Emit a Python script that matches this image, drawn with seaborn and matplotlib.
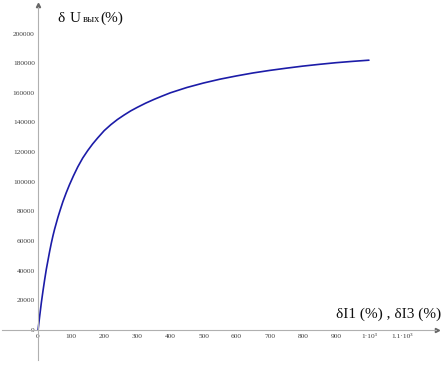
import matplotlib
matplotlib.use("Agg")
import matplotlib.pyplot as plt
import seaborn as sns
import pandas as pd

# Values
x_vals = [0, 5, 10, 15, 20, 25, 30, 35, 40, 45, 50, 55, 60, 67, 75, 85, 95, 107,
          120, 135, 150, 165, 180, 200, 220, 240, 260, 280, 300, 325, 350, 375,
          400, 450, 500, 550, 600, 650, 700, 750, 800, 850, 900, 950, 1000]
y_vals = [0, 9500, 18500, 26500, 34000, 41000, 47000, 53000, 58500, 63500, 68000,
          72000, 76000, 81000, 86500, 92500, 98000, 104000, 110000, 116000, 121000,
          125500, 129500, 134500, 138500, 142000, 145000, 147800, 150200, 153000,
          155500, 157800, 160000, 163600, 166600, 169200, 171400, 173400, 175100,
          176600, 178000, 179200, 180300, 181200, 182000]
x_ticks = [0, 100, 200, 300, 400, 500, 600, 700, 800, 900, 1000, 1100]
x_tick_labels = ["0", "100", "200", "300", "400", "500", "600", "700", "800", "900",
                 "1·10³", "1.1·10³"]
y_ticks = [0, 20000, 40000, 60000, 80000, 100000, 120000, 140000, 160000, 180000, 200000]
y_tick_labels = [str(v) for v in y_ticks]

sns.set_theme(style="white")
plt.rcParams['font.family'] = ['Liberation Serif', 'DejaVu Serif']

W, H = 447, 371
fig = plt.figure(figsize=(W / 100, H / 100), dpi=100)
ax = fig.add_axes([0, 0, 1, 1])
ax.set_facecolor("white")

df = pd.DataFrame({"x": x_vals, "y": y_vals})
sns.lineplot(data=df, x="x", y="y", ax=ax, color="#1c1ca8", lw=1.2,
             estimator=None, sort=False)

ax.set_xlim(-115, 1236)
ax.set_ylim(-27650, 222600)
ax.set_xlabel("")
ax.set_ylabel("")

axis_col = "#b0b0b0"
for s in ["top", "right"]:
    ax.spines[s].set_visible(False)
ax.spines["left"].set_position(("data", 0))
ax.spines["bottom"].set_position(("data", 0))
ax.spines["left"].set_bounds(-20200, 218000)
ax.spines["bottom"].set_bounds(-110, 1203)
for s in ["left", "bottom"]:
    ax.spines[s].set_color(axis_col)
    ax.spines[s].set_linewidth(0.8)
ax.plot([1206], [0], marker=">", ms=3, color="#666666", clip_on=False)
ax.plot([0], [219500], marker="^", ms=3, color="#666666", clip_on=False)

ax.set_xticks(x_ticks)
ax.set_xticklabels(x_tick_labels)
ax.set_yticks(y_ticks)
ax.set_yticklabels(y_tick_labels)
ax.tick_params(axis="both", direction="inout", length=3, width=0.6,
               color="#888888", labelcolor="#404040", labelsize=5.3)
ax.tick_params(axis="x", pad=1.5)
ax.tick_params(axis="y", pad=0.8)
ax.grid(False)

def ftxt(px, py, s, size):
    fig.text(px / W, 1 - py / H, s, fontsize=size, ha="left", va="baseline",
             color="#101010")

ftxt(57, 22, "δ", 11)
ftxt(70, 22, "U", 11)
ftxt(83, 22, "вых", 7.5)
ftxt(100, 22, "(%)", 11)

ftxt(336, 318, "δI1 (%) , δI3 (%)", 11)

fig.savefig("out.png", dpi=100, facecolor="white")
